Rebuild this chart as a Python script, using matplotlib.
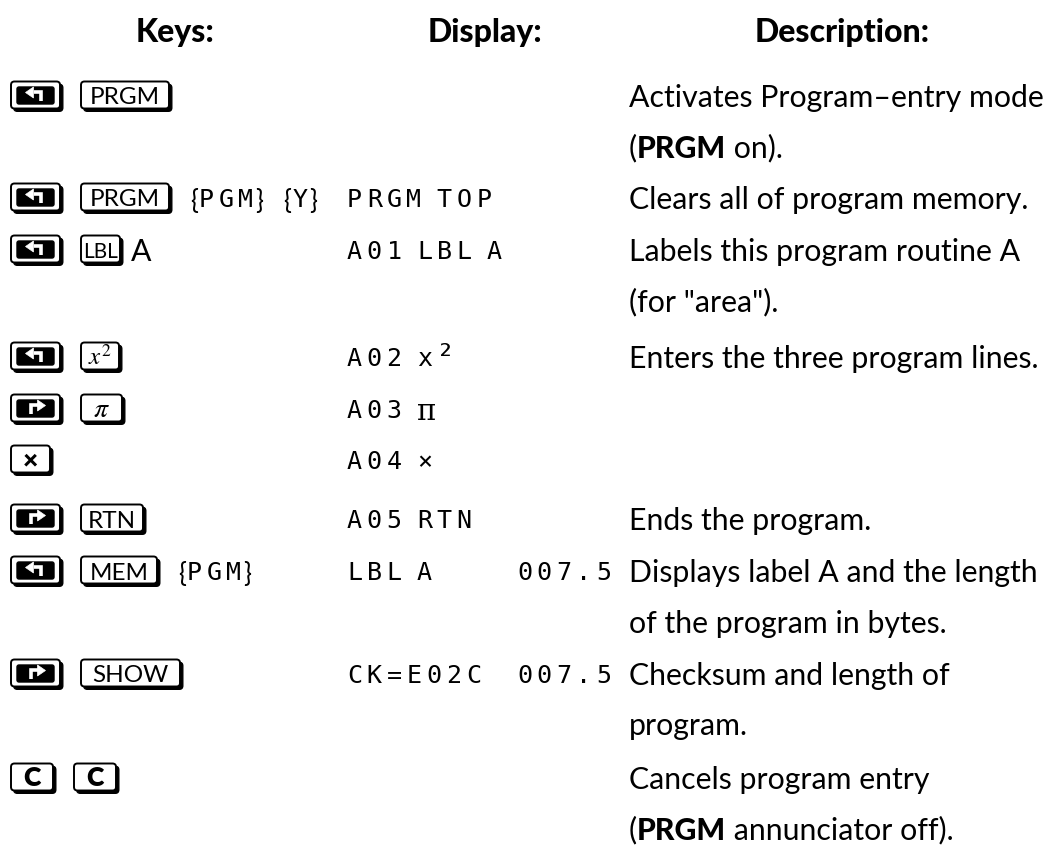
import matplotlib.pyplot as plt
from matplotlib import font_manager
from matplotlib.patches import FancyBboxPatch, Polygon

# ==============================
# TABLE CONTENT
# ==============================
headers = ["Keys:", "Display:", "Description:"]

# "<" = left shift, ">" = right shift, "{..}" = menu key, names in KEY_W = keys
key_tokens = [
    ["<", "PRGM"],
    ["<", "PRGM", "{PGM}", "{Y}"],
    ["<", "LBL", "A"],
    ["<", "x2"],
    [">", "pi"],
    ["×"],
    [">", "RTN"],
    ["<", "MEM", "{PGM}"],
    [">", "SHOW"],
    ["C", "C"],
]

display_left = ["", "PRGM TOP", "A01 LBL A", "A02 x²", "A03 π", "A04 ×",
                "A05 RTN", "LBL A", "CK=E02C", ""]
display_right = ["", "", "", "", "", "", "", "007.5", "007.5", ""]

descriptions = [
    ["Activates Program–entry mode", "(**PRGM** on)."],
    ["Clears all of program memory."],
    ["Labels this program routine A", '(for "area").'],
    ["Enters the three program lines."],
    [],
    [],
    ["Ends the program."],
    ["Displays label A and the length", "of the program in bytes."],
    ["Checksum and length of", "program."],
    ["Cancels program entry", "(**PRGM** annunciator off)."],
]

# ==============================
# LAYOUT
# ==============================
row_base = [107, 209, 261, 368, 420, 471, 530, 582, 685, 789]
line_gap = 50.5
KEY_W = {"<": 49, ">": 49, "PRGM": 88, "LBL": 39, "x2": 38, "pi": 41,
         "×": 39, "RTN": 62, "MEM": 76, "SHOW": 99, "C": 42}
KEY_FS = {"LBL": 15}
SANS = "Lato"
MONO = "DejaVu Sans Mono"
PITCH, SPACE = 19.8, 10.5

# condensed heavy face for the headings if one is around
names = {f.name for f in font_manager.fontManager.ttflist}
if "Liberation Sans Narrow" in names:
    HEAD = dict(family="Liberation Sans Narrow", fontweight="bold", fontsize=26)
else:
    HEAD = dict(family=SANS, fontweight="black", fontsize=23)

fig = plt.figure(figsize=(10.55, 8.46), dpi=100)
ax = fig.add_axes([0, 0, 1, 1])
ax.set_xlim(0, 1055)
ax.set_ylim(846, 0)
ax.axis("off")
renderer = fig.canvas.get_renderer()


def lcd(x, y, s, size=18):
    for ch in s:
        if ch == " ":
            x += SPACE
            continue
        if ch == "π":
            ax.text(x, y + 2, ch, fontsize=21, family="DejaVu Serif", va="baseline")
        elif ch == "²":
            ax.text(x - 1, y + 1, ch, fontsize=23, family=MONO, va="baseline")
        else:
            ax.text(x, y, ch, fontsize=size, family=MONO, va="baseline")
        x += PITCH
    return x


def shift_arrow(cx, cy, d):
    # d = -1 points left (left shift), d = +1 points right (right shift)
    sx = cx - 5 * d
    ax.plot([sx, sx, cx + 2 * d], [cy + 6, cy - 2.5, cy - 2.5],
            color="white", lw=2.6, solid_capstyle="butt", solid_joinstyle="miter")
    tip = cx + 10 * d
    ax.add_patch(Polygon([(tip, cy - 2.5), (cx + 2 * d, cy - 8), (cx + 2 * d, cy + 3)],
                         closed=True, fc="white", ec="white", lw=0.5))


def draw_key(x0, yc, name):
    w, h = KEY_W[name], 27
    y0 = yc - h / 2
    style = "round,pad=0,rounding_size=3.5"
    ax.add_patch(FancyBboxPatch((x0 + 2.8, y0 + 2.8), w, h, boxstyle=style,
                                fc="black", ec="black", lw=1))
    ax.add_patch(FancyBboxPatch((x0, y0), w, h, boxstyle=style,
                                fc="white", ec="black", lw=1.4))
    cx = x0 + w / 2
    if name in "<>":
        ax.add_patch(FancyBboxPatch((x0 + 6, y0 + 5.5), w - 12, h - 10,
                                    boxstyle="round,pad=0,rounding_size=2",
                                    fc="black", ec="black", lw=1))
        shift_arrow(cx, yc, -1 if name == "<" else 1)
    elif name == "x2":
        ax.text(cx, yc + 1, r"$x^2$", fontsize=18, math_fontfamily="stix",
                ha="center", va="center")
    elif name == "pi":
        ax.text(cx, yc + 1, r"$\pi$", fontsize=20, math_fontfamily="stix",
                ha="center", va="center")
    elif name in ("×", "C"):
        ax.text(cx, yc + 1, name, fontsize=19, fontweight="heavy",
                family=SANS, ha="center", va="center")
    else:
        fs = KEY_FS.get(name, 17.5)
        ax.text(cx, yc + 9.5, name, fontsize=fs, family=SANS,
                ha="center", va="baseline")
    return x0 + w


def softkey(x, y, s):
    t = ax.text(x, y + 2, "{", fontsize=19, family=SANS, va="baseline")
    x = t.get_window_extent(renderer).x1 + 1
    x = lcd(x, y, s[1:-1]) - 3
    t = ax.text(x, y + 2, "}", fontsize=19, family=SANS, va="baseline")
    return t.get_window_extent(renderer).x1


def rich(x, y, s, size=21.8):
    parts = s.split("**")
    for i, p in enumerate(parts):
        if not p:
            continue
        t = ax.text(x, y, p, fontsize=size, family=SANS, va="baseline",
                    fontweight="black" if i % 2 else "normal")
        x = t.get_window_extent(renderer).x1


# headers
for txt, xc in zip(headers, [175, 485, 842]):
    ax.text(xc, 42, txt, ha="center", va="baseline", **HEAD)

for i, base in enumerate(row_base):
    yc = base - 12
    x = 11
    for tok in key_tokens[i]:
        if tok in KEY_W:
            x = draw_key(x, yc, tok) + 21
        elif tok.startswith("{"):
            x = softkey(x, base - 2, tok) + 20
        else:
            t = ax.text(x - 10, base, tok, fontsize=21.8, family=SANS,
                        va="baseline")
            x = t.get_window_extent(renderer).x1 + 10
    if display_left[i]:
        lcd(347, base - 2, display_left[i])
    if display_right[i]:
        lcd(517, base - 2, display_right[i])
    for j, line in enumerate(descriptions[i]):
        rich(629, base + j * line_gap, line)

fig.savefig("out.png", dpi=100, facecolor="white")
